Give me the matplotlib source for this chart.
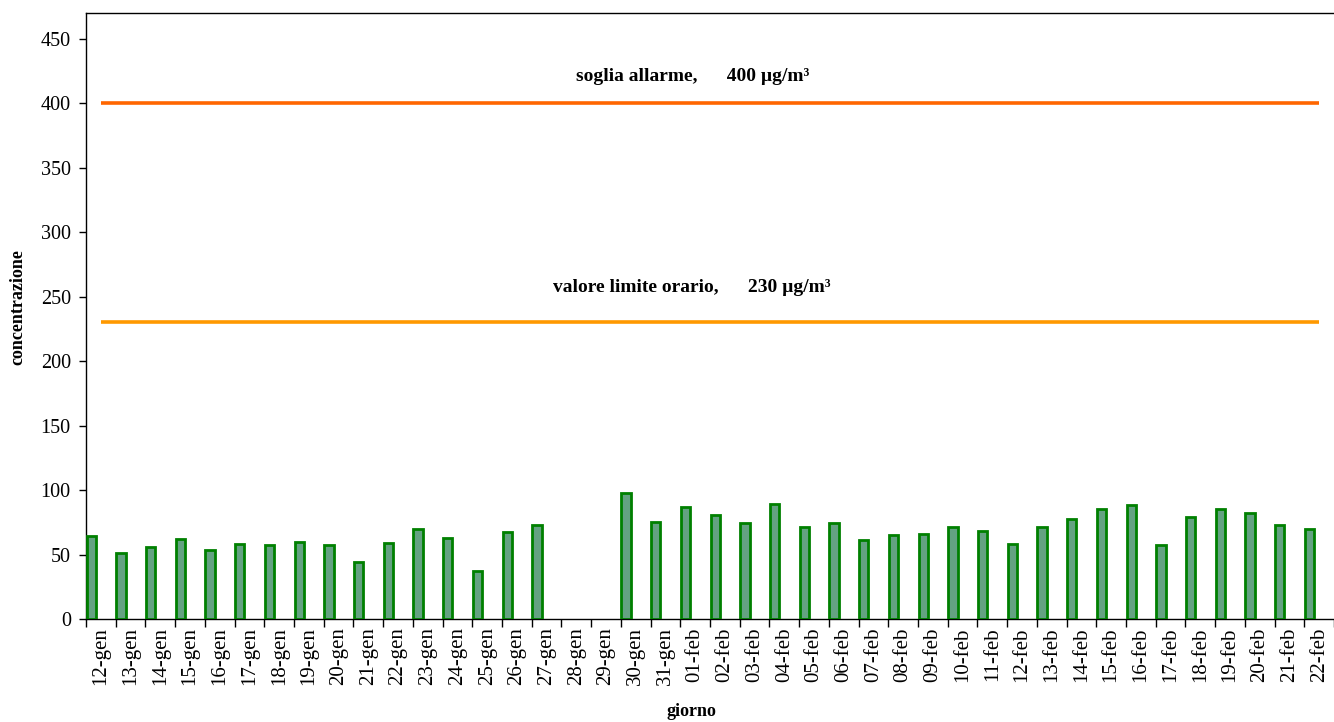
import matplotlib
matplotlib.use("Agg")
import matplotlib.pyplot as plt
import numpy as np

days = ["12-gen", "13-gen", "14-gen", "15-gen", "16-gen", "17-gen", "18-gen", "19-gen",
        "20-gen", "21-gen", "22-gen", "23-gen", "24-gen", "25-gen", "26-gen", "27-gen",
        "28-gen", "29-gen", "30-gen", "31-gen", "01-feb", "02-feb", "03-feb", "04-feb",
        "05-feb", "06-feb", "07-feb", "08-feb", "09-feb", "10-feb", "11-feb", "12-feb",
        "13-feb", "14-feb", "15-feb", "16-feb", "17-feb", "18-feb", "19-feb", "20-feb",
        "21-feb", "22-feb"]
values = [64, 51.5, 55.5, 62, 53.5, 58.5, 57, 60,
          57, 44.5, 59, 69.5, 62.5, 37.5, 67.5, 73,
          np.nan, np.nan, 98, 75, 86.5, 81, 74.5, 89.5,
          71, 74.5, 61.5, 65, 66, 71, 68.5, 58,
          71.5, 77.5, 85, 88.5, 57, 79, 85.5, 82.5,
          73, 70]
soglia_allarme = 400
valore_limite = 230
label_allarme = "soglia allarme,      400 µg/m³"
label_limite = "valore limite orario,      230 µg/m³"

plt.rcParams['font.family'] = ['Liberation Serif', 'DejaVu Serif']

fig = plt.figure(figsize=(13.34, 7.22), dpi=100)
ax = fig.add_axes([0.0645, 0.1427, 0.9355, 0.8393])

n = len(days)
idx = np.arange(n)
vals = np.array(values, dtype=float)
mask = ~np.isnan(vals)
ax.bar(idx[mask] + 0.02, vals[mask], width=0.31, align='edge',
       color='#64a282', edgecolor='#008000', linewidth=2.0, zorder=3)

centers = idx + 0.5
ax.plot([centers[0], centers[-1]], [soglia_allarme, soglia_allarme],
        color='#ff6600', linewidth=2.6, solid_capstyle='butt', zorder=2)
ax.plot([centers[0], centers[-1]], [valore_limite, valore_limite],
        color='#ff9900', linewidth=2.6, solid_capstyle='butt', zorder=2)

ax.text(20.4, 421, label_allarme, ha='center', va='center', fontsize=14, fontweight='bold')
ax.text(20.4, 257, label_limite, ha='center', va='center', fontsize=14, fontweight='bold')

ax.set_xlim(0, n)
ax.set_ylim(0, 470)
ax.set_yticks(np.arange(0, 451, 50))
ax.tick_params(axis='y', labelsize=14.5, length=5, width=1, direction='out', pad=6)

ax.set_xticks(np.arange(0, n + 1))
ax.set_xticklabels([])
ax.set_xticks(centers, minor=True)
ax.set_xticklabels(days, minor=True, rotation=90, fontsize=15)
ax.tick_params(axis='x', which='major', length=6, width=1, direction='out')
ax.tick_params(axis='x', which='minor', length=0, pad=6)

ax.spines['right'].set_visible(False)
for s in ['left', 'bottom', 'top']:
    ax.spines[s].set_linewidth(1.0)

ax.set_xlabel("giorno", fontsize=13, fontweight='bold', va='center')
ax.xaxis.set_label_coords(0.4855, -0.1535)
ax.set_ylabel("concentrazione", fontsize=13, fontweight='bold', va='center')
ax.yaxis.set_label_coords(-0.0545, 0.515)

fig.savefig("out.png", dpi=100)
